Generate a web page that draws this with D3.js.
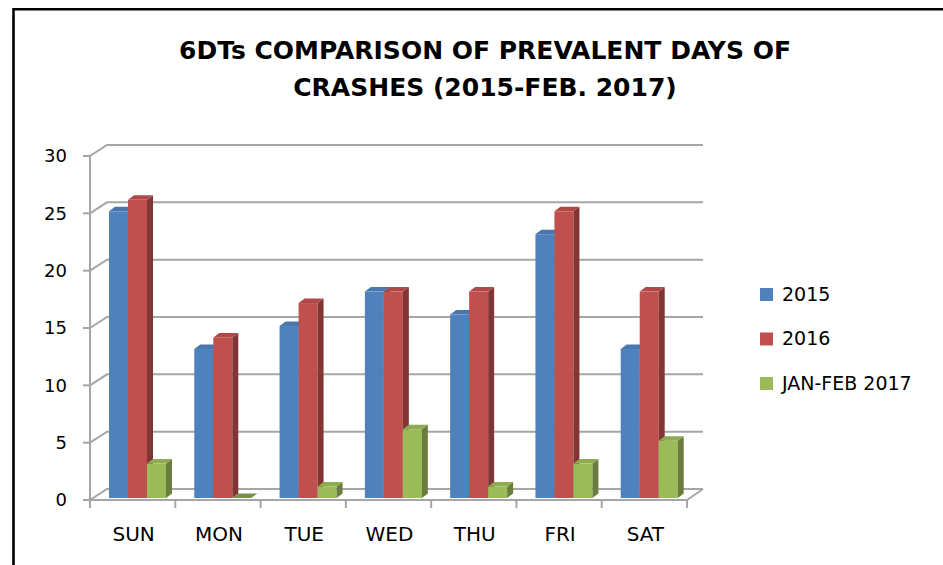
<!DOCTYPE html>
<html>
<head>
<meta charset="utf-8">
<script src="https://cdn.jsdelivr.net/npm/d3@7"></script>
<style>
  body { margin: 0; background: #fff; }
  text { font-family: "Comic Sans MS", "DejaVu Sans", sans-serif; fill: #000; }
</style>
</head>
<body>
<div id="main"></div>
<script>
var days = ['SUN', 'MON', 'TUE', 'WED', 'THU', 'FRI', 'SAT'];
var seriesNames = ['2015', '2016', 'JAN-FEB 2017'];
var values2015 = [25, 13, 15, 18, 16, 23, 13];
var values2016 = [26, 14, 17, 18, 18, 25, 18];
var valuesJanFeb2017 = [3, 0, 1, 6, 1, 3, 5];
var yTicks = [0, 5, 10, 15, 20, 25, 30];
var titleLines = ['6DTs COMPARISON OF PREVALENT DAYS OF', 'CRASHES (2015-FEB. 2017)'];

var width = 943,
    height = 565;

var colors = ['#4F81BD', '#C0504D', '#9BBB59'];

// depth of the back wall and of each bar
var wallDx = 17, wallDy = -11;
var barDx = 6, barDy = -4.5, lift = -2;

var svg = d3.select("#main").append("svg")
    .attr("width", width)
    .attr("height", height);

// frame (only left and top edges show)
svg.append("path")
    .attr("d", "M13.5,600V9.3H960")
    .attr("fill", "none")
    .attr("stroke", "#000")
    .attr("stroke-width", 2.6);

svg.selectAll(".title")
    .data(titleLines)
  .enter().append("text")
    .attr("class", "title")
    .attr("x", 485)
    .attr("y", function(d, i) { return 59 + i * 37; })
    .attr("text-anchor", "middle")
    .style("font-weight", "bold")
    .style("font-size", "25px")
    .text(function(d) { return d; });

var x = d3.scaleBand().domain(days).range([90, 687]);
var xSeries = d3.scaleBand().domain(seriesNames).range([19, 76]);
var y = d3.scaleLinear().domain([0, 30]).range([500, 156]);

var grid = svg.append("g").attr("class", "grid")
    .attr("stroke", "#A6A6A6")
    .attr("stroke-width", 2)
    .attr("fill", "none");

// back wall gridlines with the diagonal to the front axis
grid.selectAll(".gl")
    .data(yTicks)
  .enter().append("path")
    .attr("class", "gl")
    .attr("d", function(d) {
      var yy = y(d);
      return "M90," + yy + "L" + (90 + wallDx) + "," + (yy + wallDy) + "H703";
    });

// floor front and right edges
grid.append("path")
    .attr("d", "M90," + y(0) + "H687L703," + (y(0) + wallDy));

// front value axis
grid.append("path")
    .attr("d", "M90," + y(30) + "V" + y(0));

grid.selectAll(".ytick")
    .data(yTicks)
  .enter().append("path")
    .attr("class", "ytick")
    .attr("d", function(d) { return "M83," + y(d) + "H90"; });

var xBounds = days.map(function(d) { return x(d); }).concat([687]);
grid.selectAll(".xtick")
    .data(xBounds)
  .enter().append("path")
    .attr("class", "xtick")
    .attr("d", function(d) { return "M" + d + "," + y(0) + "V508"; });

svg.selectAll(".ylabel")
    .data(yTicks)
  .enter().append("text")
    .attr("class", "ylabel")
    .attr("x", 67)
    .attr("y", function(d) { return y(d); })
    .attr("dy", "0.36em")
    .attr("text-anchor", "end")
    .style("font-size", "18px")
    .text(function(d) { return d; });

svg.selectAll(".xlabel")
    .data(days)
  .enter().append("text")
    .attr("class", "xlabel")
    .attr("x", function(d) { return x(d) + x.bandwidth() / 2 + 1; })
    .attr("y", 534)
    .attr("dy", "0.36em")
    .attr("text-anchor", "middle")
    .style("font-size", "20px")
    .text(function(d) { return d; });

var allValues = [values2015, values2016, valuesJanFeb2017];
var data = [];
days.forEach(function(day, i) {
  seriesNames.forEach(function(s, j) {
    data.push({ day: day, series: s, idx: j, value: allValues[j][i] });
  });
});

var bar = svg.selectAll(".bar")
    .data(data)
  .enter().append("g")
    .attr("class", "bar");

bar.each(function(d) {
  var g = d3.select(this);
  var x0 = x(d.day) + xSeries(d.series),
      w = xSeries.bandwidth(),
      top = y(d.value) + lift,
      bottom = y(0) + lift,
      c = d3.color(colors[d.idx]);

  if (d.value > 0) {
    g.append("rect")
      .attr("x", x0)
      .attr("y", top)
      .attr("width", w)
      .attr("height", bottom - top)
      .attr("fill", c);

    g.append("path")
      .attr("d", "M" + (x0 + w) + "," + top + "L" + (x0 + w + barDx) + "," + (top + barDy) +
                 "V" + (bottom + barDy) + "L" + (x0 + w) + "," + bottom + "Z")
      .attr("fill", c.darker(1.1));
  }

  g.append("path")
    .attr("d", "M" + x0 + "," + top + "L" + (x0 + barDx) + "," + (top + barDy) +
               "H" + (x0 + w + barDx) + "L" + (x0 + w) + "," + top + "Z")
    .attr("fill", d.value > 0 ? c.darker(0.25) : c.darker(0.7));
});

// legend
var legend = svg.selectAll(".legend")
    .data(seriesNames)
  .enter().append("g")
    .attr("class", "legend")
    .attr("transform", function(d, i) { return "translate(760," + (294 + i * 44.5) + ")"; });

legend.append("rect")
    .attr("x", 0)
    .attr("y", -6)
    .attr("width", 13)
    .attr("height", 13)
    .attr("fill", function(d, i) { return colors[i]; });

legend.append("text")
    .attr("x", 22)
    .attr("y", 0)
    .attr("dy", "0.36em")
    .style("font-size", "19px")
    .text(function(d) { return d; });
</script>
</body>
</html>
